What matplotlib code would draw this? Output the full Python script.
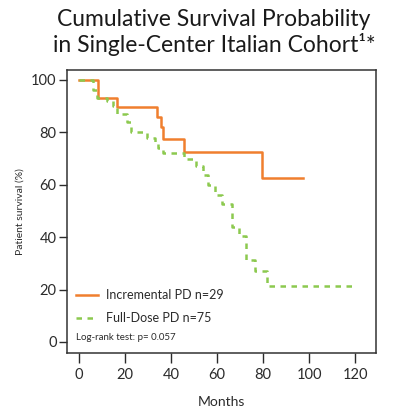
import matplotlib
matplotlib.use("Agg")
import matplotlib.pyplot as plt
import numpy as np

plt.rcParams['font.family'] = ['Lato', 'DejaVu Sans']

# Kaplan-Meier steps (month of drop, survival % after drop)
inc_months = [0, 8.1, 16.7, 33.8, 35.5, 36.7, 45.4, 79.4, 97.5]
inc_surv = [100, 93.3, 89.7, 86.0, 82.0, 77.4, 72.6, 62.5, 62.5]

full_months = [0, 6.2, 7.7, 12.3, 14.7, 16.4, 21.0, 22.5, 29.5, 33.0, 34.5, 36.5,
               45.4, 51.0, 54.0, 56.2, 59.1, 62.0, 66.4, 69.7, 72.5, 76.5, 81.6, 118.6]
full_surv = [100, 96.0, 93.3, 92.0, 90.0, 87.0, 84.0, 80.0, 77.7, 76.0, 74.0, 72.3,
             70.0, 67.0, 63.7, 60.0, 56.1, 52.5, 44.0, 40.5, 31.3, 27.0, 21.4, 21.4]

x_ticks = [0, 20, 40, 60, 80, 100, 120]
y_ticks = [0, 20, 40, 60, 80, 100]

orange = '#f07f2e'
green = '#8cc94f'
text_col = '#2b2b2b'

fig = plt.figure(figsize=(4.0, 4.12), dpi=100)
ax = fig.add_axes([0.1675, 0.1432, 0.7725, 0.6868])

ax.step(inc_months, inc_surv, where='post', color=orange, lw=1.8,
        label='Incremental PD n=29')
ax.step(full_months, full_surv, where='post', color=green, lw=1.8,
        linestyle=(0, (2.2, 2.2)), label='Full-Dose PD n=75')

ax.set_xlim(-5.2, 129)
ax.set_ylim(-4.2, 103.8)
ax.set_xticks(x_ticks)
ax.set_yticks(y_ticks)
ax.tick_params(axis='x', length=7, width=1, labelsize=10.5, colors=text_col, pad=4)
ax.tick_params(axis='y', length=5.5, width=1, labelsize=10.5, colors=text_col, pad=2)
for s in ax.spines.values():
    s.set_color('#333333')
    s.set_linewidth(1.1)

ax.set_xlabel('Months', fontsize=10, color=text_col, labelpad=10)
ax.set_ylabel('Patient survival (%)', fontsize=7.5, color=text_col, labelpad=5)

leg = ax.legend(loc='lower left', bbox_to_anchor=(0.0, 0.07), frameon=False,
                fontsize=9, handlelength=1.8, handletextpad=0.6,
                labelspacing=0.9, borderaxespad=0.3)
for t in leg.get_texts():
    t.set_color(text_col)
ax.text(0.03, 0.04, 'Log-rank test: p= 0.057', transform=ax.transAxes,
        fontsize=7, color=text_col, va='bottom')

fig.text(0.535, 0.978, 'Cumulative Survival Probability\nin Single-Center Italian Cohort¹*',
         ha='center', va='top', fontsize=16.5, color='#1a1a1a', linespacing=1.15)

fig.savefig('out.png', dpi=100)
